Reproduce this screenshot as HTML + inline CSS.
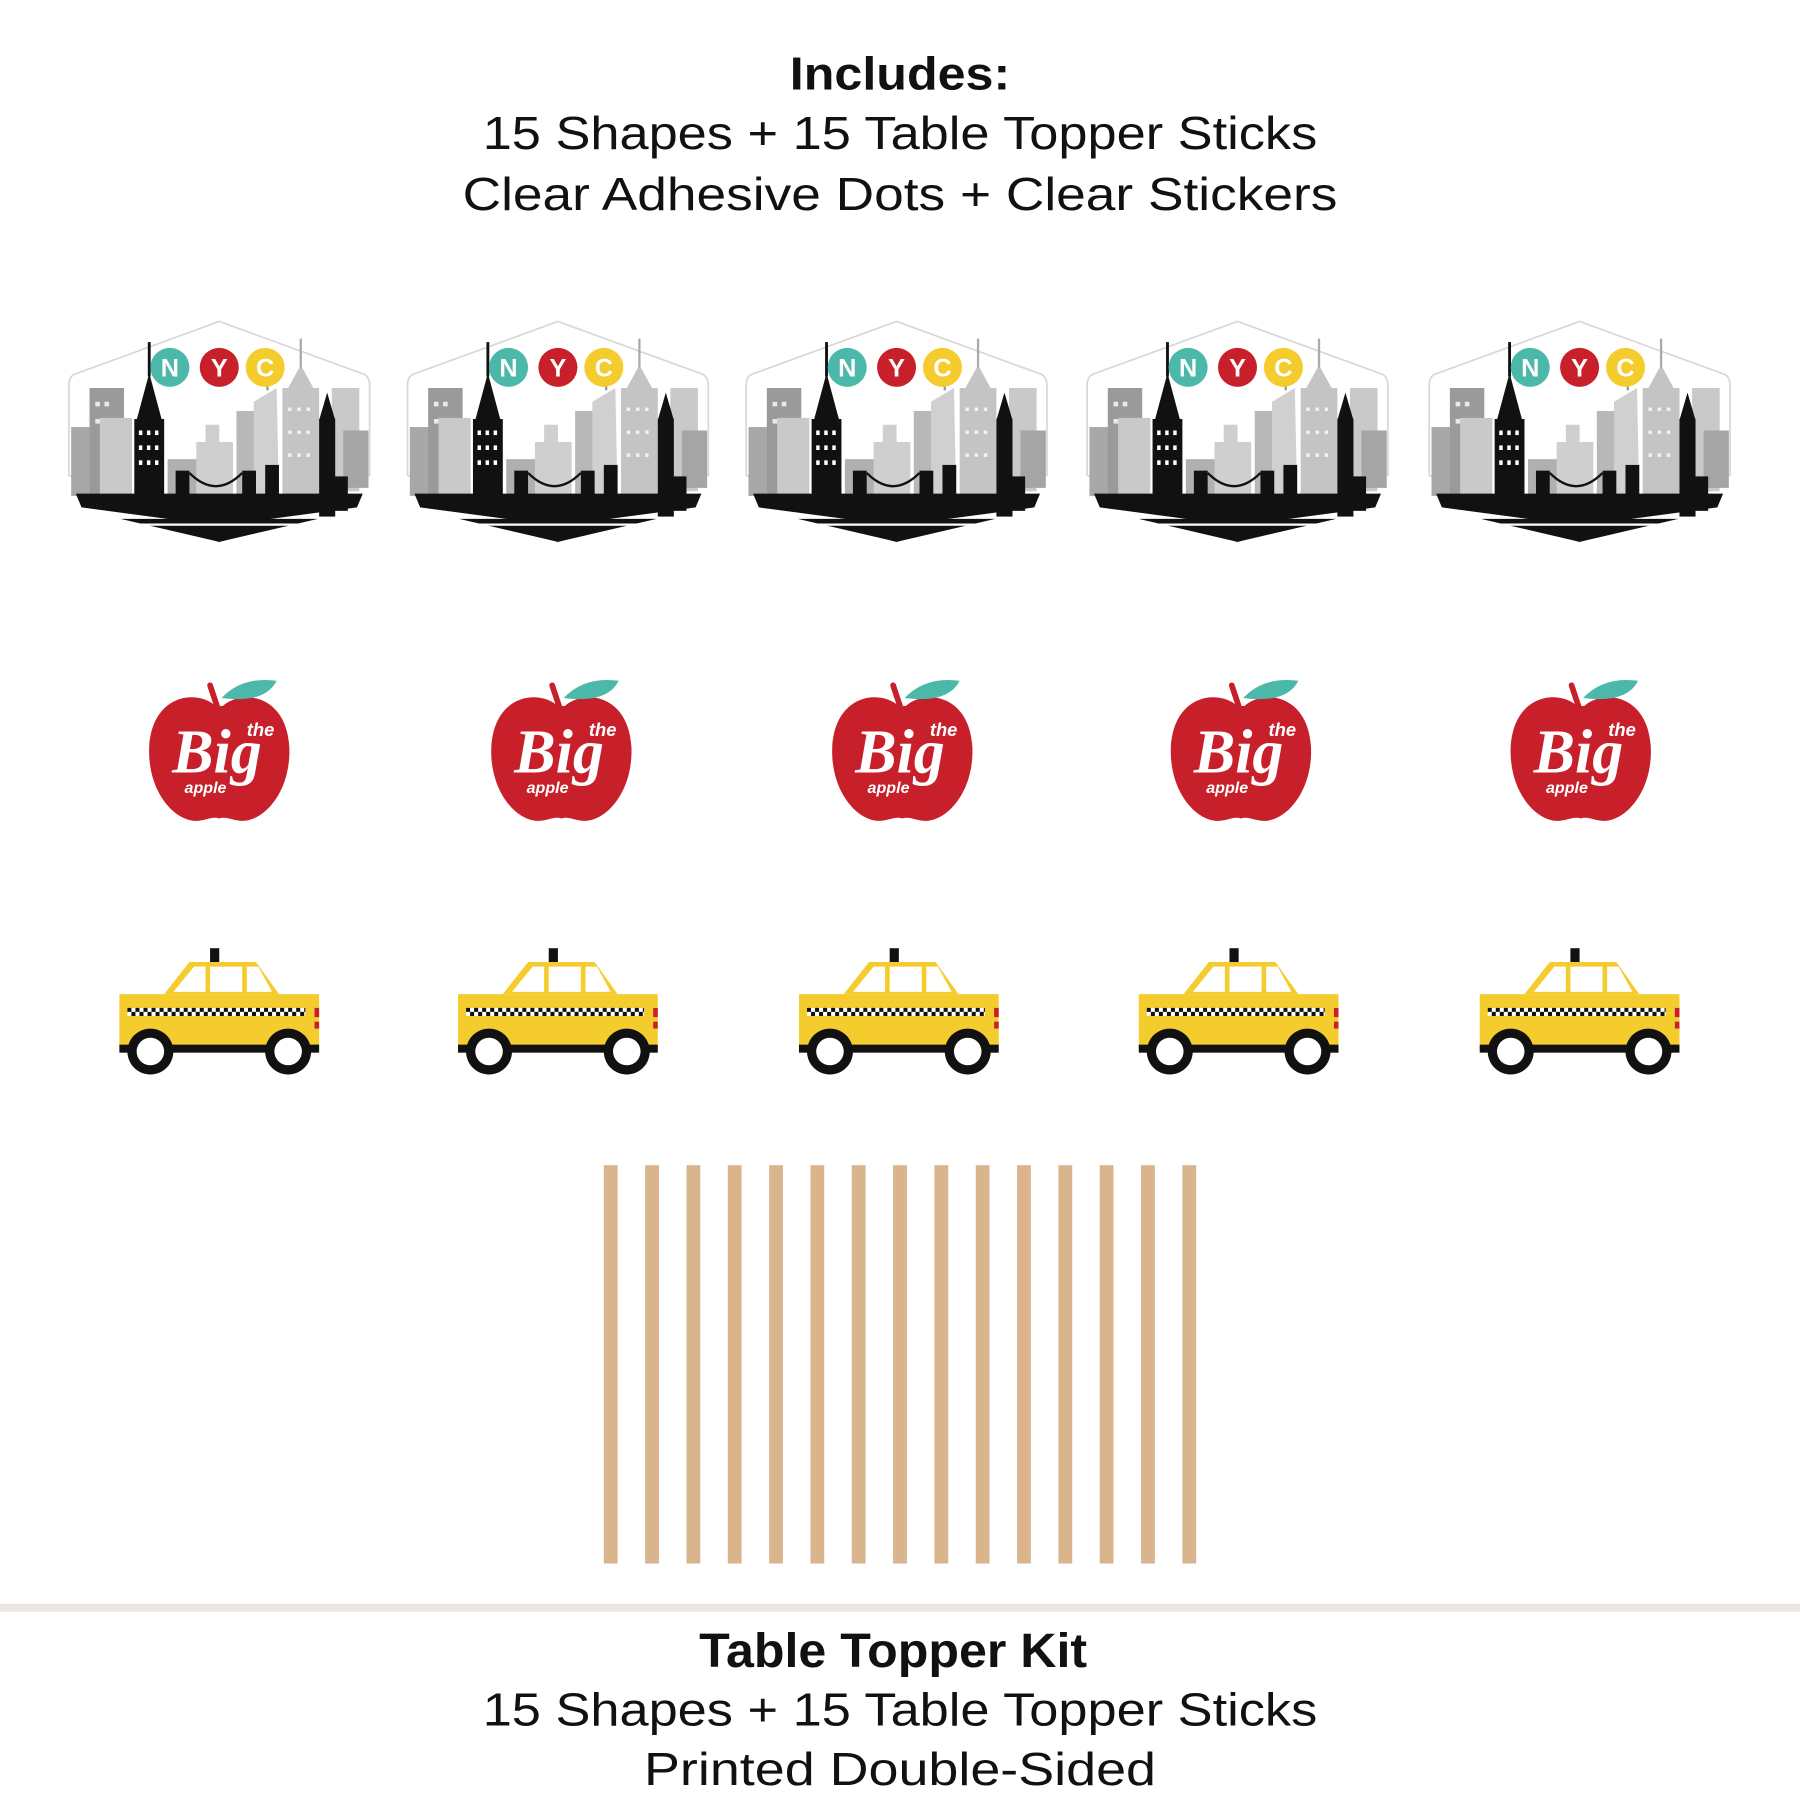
<!DOCTYPE html>
<html><head><meta charset="utf-8"><style>
html,body{margin:0;padding:0;background:#fff;}
svg{display:block;}
</style></head><body>
<svg width="1800" height="1800" viewBox="0 0 1568 1568" xmlns="http://www.w3.org/2000/svg" font-family="'Liberation Sans', 'DejaVu Sans', sans-serif">
<defs>
<g id="hex">
  <path d="M0,0 L126,46 Q131,48 131,56 L131,134 L0,192 L-131,134 L-131,56 Q-131,48 -126,46 Z" fill="#fff" stroke="#d8d8d8" stroke-width="1.5"/>
  <rect x="-129" y="92" width="20" height="60" fill="#a8a8a8"/>
  <rect x="-113" y="58" width="30" height="95" fill="#9a9a9a"/>
  <rect x="-104" y="84" width="28" height="70" fill="#c9c9c9"/>
  <rect x="-45" y="120" width="28" height="35" fill="#b0b0b0"/>
  <rect x="-20" y="105" width="32" height="50" fill="#cfcfcf"/>
  <rect x="-12" y="90" width="12" height="16" fill="#cfcfcf"/>
  <rect x="15" y="78" width="25" height="75" fill="#b8b8b8"/>
  <polygon points="30,70 50,58 52,155 30,155" fill="#d0d0d0"/>
  <line x1="42" y1="25" x2="42" y2="60" stroke="#999" stroke-width="2"/>
  <rect x="55" y="58" width="32" height="100" fill="#c4c4c4"/>
  <polygon points="60,58 71,38 82,58" fill="#c4c4c4"/>
  <line x1="71" y1="15" x2="71" y2="40" stroke="#aaa" stroke-width="2"/>
  <rect x="98" y="58" width="24" height="90" fill="#c9c9c9"/>
  <rect x="108" y="95" width="22" height="50" fill="#a5a5a5"/>
  <g fill="#fff" opacity="0.8">
   <rect x="-108" y="70" width="4" height="4"/><rect x="-100" y="70" width="4" height="4"/><rect x="-108" y="85" width="4" height="4"/>
   <rect x="60" y="75" width="3" height="3"/><rect x="68" y="75" width="3" height="3"/><rect x="76" y="75" width="3" height="3"/>
   <rect x="60" y="95" width="3" height="3"/><rect x="68" y="95" width="3" height="3"/><rect x="76" y="95" width="3" height="3"/>
   <rect x="60" y="115" width="3" height="3"/><rect x="68" y="115" width="3" height="3"/><rect x="76" y="115" width="3" height="3"/>
  </g>
  <rect x="-74" y="85" width="26" height="75" fill="#111"/>
  <polygon points="-72,86 -61,45 -50,86" fill="#111"/>
  <line x1="-61" y1="18" x2="-61" y2="48" stroke="#111" stroke-width="2.5"/>
  <g fill="#fff"><rect x="-70" y="95" width="3" height="4"/><rect x="-63" y="95" width="3" height="4"/><rect x="-56" y="95" width="3" height="4"/>
   <rect x="-70" y="108" width="3" height="4"/><rect x="-63" y="108" width="3" height="4"/><rect x="-56" y="108" width="3" height="4"/>
   <rect x="-70" y="121" width="3" height="4"/><rect x="-63" y="121" width="3" height="4"/><rect x="-56" y="121" width="3" height="4"/></g>
  <rect x="87" y="85" width="14" height="85" fill="#111"/>
  <polygon points="87,86 94,62 101,86" fill="#111"/>
  <rect x="97" y="135" width="15" height="30" fill="#111"/>
  <rect x="-38" y="130" width="12" height="30" fill="#111"/>
  <rect x="20" y="130" width="12" height="30" fill="#111"/>
  <path d="M-26,132 Q-3,155 20,132" fill="none" stroke="#111" stroke-width="2"/>
  <rect x="40" y="125" width="12" height="35" fill="#111"/>
  <polygon points="-125,150 125,150 120,162 0,178 -120,162" fill="#111"/>
  <polygon points="-86,172 86,172 0,192" fill="#111"/>
  <line x1="-80" y1="177" x2="80" y2="177" stroke="#fff" stroke-width="2"/>
  <circle cx="-43" cy="40" r="17" fill="#4bb8a9"/>
  <circle cx="0" cy="40" r="17" fill="#c8202a"/>
  <circle cx="40" cy="40" r="17" fill="#f5cc2e"/>
  <g fill="#fff" font-weight="bold" font-size="22" text-anchor="middle">
   <text x="-43" y="48">N</text><text x="0" y="48">Y</text><text x="40" y="48">C</text>
  </g>
</g>
<g id="apple">
  <path d="M3,-40 C20,-55 58,-50 61,-5 C63,35 38,62 18,60 C10,59 6,56 0,58 C-6,56 -10,59 -18,60 C-38,62 -63,35 -61,-5 C-58,-50 -20,-55 -3,-40 Z" fill="#c8202a"/>
  <path d="M-2,-40 Q-6,-52 -8,-58" stroke="#c8202a" stroke-width="5" fill="none" stroke-linecap="round"/>
  <path d="M2,-47 Q20,-66 50,-62 Q40,-42 2,-47 Z" fill="#4bb8a9"/>
  <text x="-2" y="18" fill="#fff" font-family="'Liberation Serif', serif" font-style="italic" font-weight="bold" font-size="54" text-anchor="middle">Big</text>
  <text x="36" y="-14" fill="#fff" font-style="italic" font-weight="bold" font-size="16" text-anchor="middle">the</text>
  <text x="-12" y="36" fill="#fff" font-style="italic" font-weight="bold" font-size="14" text-anchor="middle">apple</text>
</g>
<g id="taxi">
  <rect x="-8" y="0" width="8" height="12" fill="#111"/>
  <polygon points="-48,40 -26,12 32,12 52,40" fill="#f5cc2e"/>
  <polygon points="-40,38 -22,16 -12,16 -12,38" fill="#fff"/>
  <polygon points="-8,38 -8,16 20,16 20,38" fill="#fff"/>
  <polygon points="24,38 24,16 34,16 46,38" fill="#fff"/>
  <rect x="-87" y="40" width="174" height="48" fill="#f5cc2e"/>
  <rect x="-87" y="84" width="174" height="7" fill="#111"/>
  <rect x="-80" y="52" width="155" height="7" fill="#fff"/>
  <line x1="-80" y1="53.75" x2="75" y2="53.75" stroke="#111" stroke-width="3.5" stroke-dasharray="3.5 3.5"/>
  <line x1="-80" y1="57.25" x2="75" y2="57.25" stroke="#111" stroke-width="3.5" stroke-dasharray="3.5 3.5" stroke-dashoffset="3.5"/>
  <rect x="83" y="52" width="4" height="8" fill="#c8202a"/>
  <rect x="83" y="64" width="4" height="6" fill="#c8202a"/>
  <circle cx="-60" cy="90" r="20" fill="#111"/><circle cx="-60" cy="90" r="12" fill="#fff"/>
  <circle cx="60" cy="90" r="20" fill="#111"/><circle cx="60" cy="90" r="12" fill="#fff"/>
</g>
</defs>

<text x="784" y="78" text-anchor="middle" font-weight="bold" font-size="40" textLength="192" lengthAdjust="spacingAndGlyphs" fill="#111">Includes:</text>
<text x="784" y="130" text-anchor="middle" font-size="40" textLength="727" lengthAdjust="spacingAndGlyphs" fill="#111">15 Shapes + 15 Table Topper Sticks</text>
<text x="784" y="183" text-anchor="middle" font-size="40" textLength="762" lengthAdjust="spacingAndGlyphs" fill="#111">Clear Adhesive Dots + Clear Stickers</text>

<use href="#hex" x="191" y="280"/>
<use href="#hex" x="486" y="280"/>
<use href="#hex" x="781" y="280"/>
<use href="#hex" x="1078" y="280"/>
<use href="#hex" x="1376" y="280"/>

<use href="#apple" x="191" y="655"/>
<use href="#apple" x="489" y="655"/>
<use href="#apple" x="786" y="655"/>
<use href="#apple" x="1081" y="655"/>
<use href="#apple" x="1377" y="655"/>

<use href="#taxi" x="191" y="826"/>
<use href="#taxi" x="486" y="826"/>
<use href="#taxi" x="783" y="826"/>
<use href="#taxi" x="1079" y="826"/>
<use href="#taxi" x="1376" y="826"/>

<g fill="#d9b48c">
<rect x="526" y="1015" width="12" height="347"/>
<rect x="562" y="1015" width="12" height="347"/>
<rect x="598" y="1015" width="12" height="347"/>
<rect x="634" y="1015" width="12" height="347"/>
<rect x="670" y="1015" width="12" height="347"/>
<rect x="706" y="1015" width="12" height="347"/>
<rect x="742" y="1015" width="12" height="347"/>
<rect x="778" y="1015" width="12" height="347"/>
<rect x="814" y="1015" width="12" height="347"/>
<rect x="850" y="1015" width="12" height="347"/>
<rect x="886" y="1015" width="12" height="347"/>
<rect x="922" y="1015" width="12" height="347"/>
<rect x="958" y="1015" width="12" height="347"/>
<rect x="994" y="1015" width="12" height="347"/>
<rect x="1030" y="1015" width="12" height="347"/>
</g>

<rect x="0" y="1397" width="1568" height="7" fill="#ebe6e2"/>

<text x="778" y="1452" text-anchor="middle" font-weight="bold" font-size="42" textLength="338" lengthAdjust="spacingAndGlyphs" fill="#111">Table Topper Kit</text>
<text x="784" y="1503" text-anchor="middle" font-size="40" textLength="727" lengthAdjust="spacingAndGlyphs" fill="#111">15 Shapes + 15 Table Topper Sticks</text>
<text x="784" y="1555" text-anchor="middle" font-size="40" textLength="446" lengthAdjust="spacingAndGlyphs" fill="#111">Printed Double-Sided</text>
</svg>
</body></html>
